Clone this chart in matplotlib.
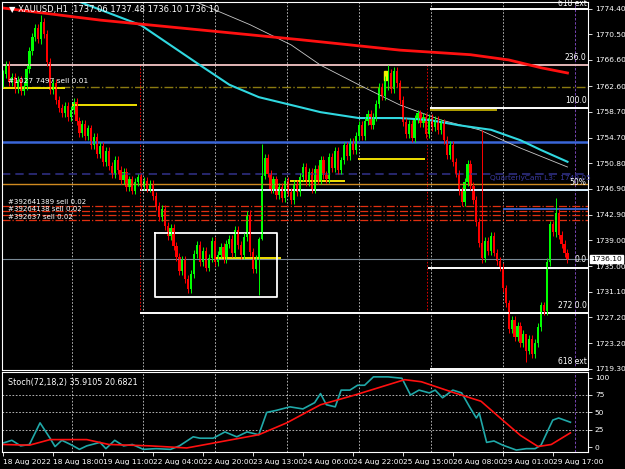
import numpy as np
import matplotlib
matplotlib.use('Agg')
import matplotlib.pyplot as plt

# Hourly closes, XAUUSD H1
closes = [
    1764.5, 1765.8, 1763.2, 1764.0, 1762.1, 1763.5, 1761.8, 1762.6, 1765.2, 1768.0,
    1770.1, 1771.5, 1769.8, 1772.4, 1770.6, 1766.3, 1762.0, 1763.1, 1760.5, 1759.2,
    1758.4, 1759.6, 1757.8, 1758.9, 1760.1, 1757.2, 1755.4, 1756.8, 1754.9, 1756.1,
    1753.6, 1754.8, 1752.2, 1753.4, 1751.0, 1752.7, 1750.4, 1749.1, 1751.3, 1749.8,
    1748.2, 1749.5, 1747.1, 1748.3, 1746.6, 1747.9, 1748.6, 1747.3, 1748.1, 1746.9,
    1747.6, 1745.8, 1744.2, 1742.5, 1743.8, 1741.2, 1739.6, 1740.8, 1738.1, 1736.4,
    1734.2, 1735.9, 1733.1, 1731.5, 1733.8, 1736.9, 1738.2, 1735.6, 1737.4, 1734.8,
    1736.3, 1738.9, 1735.7, 1736.8, 1737.9, 1736.1, 1738.4, 1739.2, 1737.0, 1740.6,
    1738.3, 1736.7, 1739.5, 1742.8, 1737.2, 1734.6, 1736.2, 1739.1, 1748.9, 1751.6,
    1749.2, 1746.8, 1748.3, 1745.9, 1747.1, 1745.5, 1748.0, 1746.4, 1745.1, 1747.6,
    1746.3, 1748.7, 1750.2, 1747.9, 1749.4, 1746.8, 1749.9, 1748.2, 1751.3, 1749.0,
    1748.4, 1751.8, 1750.1, 1752.6, 1749.7, 1751.2, 1753.5, 1751.9, 1754.1, 1752.8,
    1755.0, 1756.7, 1754.9, 1757.2, 1758.3, 1756.6, 1757.8, 1759.9, 1762.4, 1761.1,
    1763.5, 1764.6, 1762.2, 1764.9, 1763.0, 1760.4, 1757.1, 1755.3, 1756.8, 1754.6,
    1757.5, 1758.4, 1756.9, 1757.9, 1755.2, 1757.7, 1756.3, 1757.4, 1755.8, 1756.9,
    1754.3, 1752.1, 1753.6, 1751.0, 1749.2, 1746.5, 1744.8, 1747.9, 1750.6, 1747.3,
    1745.1, 1741.8, 1738.5, 1736.2, 1738.9, 1737.4, 1739.6, 1737.1, 1735.8, 1734.9,
    1731.6, 1729.3, 1725.4, 1726.8, 1724.2, 1725.9, 1723.3, 1724.6, 1722.1, 1723.8,
    1721.5, 1723.2, 1725.7, 1729.0, 1728.1, 1735.6, 1741.4, 1740.2, 1743.1, 1739.8,
    1738.4, 1737.06, 1736.10,
]
first_open = 1763.0
# notable wicks: bar -> (high, low)
wick_extremes = {13: (1773.5, 1769.0), 84: (1743.6, 1736.5), 87: (1739.5, 1730.6),
                 88: (1753.7, 1739.0), 131: (1765.8, 1762.0), 163: (1755.9, 1735.5),
                 178: (1724.0, 1720.4), 188: (1745.5, 1739.5)}
default_wick = 0.6

# moving averages (bar, price)
ma_red = [(0, 1774.55), (33, 1772.7), (67, 1771.2), (101, 1769.7), (135, 1768.1),
          (159, 1767.4), (172, 1766.6), (183, 1765.4), (192, 1764.6)]
ma_cyan = [(26, 1775.5), (47, 1771.9), (67, 1765.8), (77, 1762.8), (87, 1760.9),
           (98, 1759.7), (108, 1758.6), (121, 1757.7), (135, 1757.7), (145, 1757.4),
           (155, 1756.6), (166, 1755.9), (176, 1754.3), (183, 1752.8), (192, 1751.0)]
ma_gray = [(64, 1775.8), (84, 1772.0), (98, 1768.9), (108, 1765.8), (121, 1762.8),
           (135, 1759.7), (149, 1757.4), (162, 1755.9), (176, 1753.1), (192, 1750.2)]

# stochastic (bar, value)
stoch_main = [(0, 6), (3, 10), (6, 2), (9, 4), (12.6, 35), (16, 13), (17.7, 1), (20, 10),
              (23, 4), (26, -3), (28.5, 2), (33, 7), (35, -2), (38, 10), (41, 2), (44, 4),
              (47.7, -3), (52, -2), (57, -3), (60, 2), (64.7, 15), (67, 13), (71.5, 13),
              (75.5, 22), (79.5, 15), (83, 22), (87, 18), (89.7, 50), (93, 53), (97.6, 58),
              (102, 55), (106, 64), (108, 77), (110, 61), (113, 58), (115, 82), (118, 82),
              (120.6, 89), (123, 89), (126, 101), (131, 101), (135.7, 99), (138.6, 75),
              (141.5, 82), (145, 78), (147, 82), (149.5, 71), (153, 82), (156, 78),
              (158.7, 58), (161, 42), (162, 49), (164.5, 7), (167, 9), (170, 3),
              (174.6, -4), (178, -2), (181, -2), (183, 3), (187, 39), (189, 42), (193, 35.9)]
stoch_signal = [(0, 4), (9, 3), (16, 11), (28.5, 11), (36, 4), (50, 2), (62.5, -1),
                (78, 11), (87, 18), (96.5, 35), (108, 61), (119.7, 75), (136.6, 97),
                (142.3, 94), (153.6, 78), (162.6, 66), (169.4, 41), (176, 17), (182, 1),
                (186.5, 4), (193, 20.7)]

price_ticks = [1774.40, 1770.50, 1766.60, 1762.60, 1758.70, 1754.70, 1750.80, 1746.90,
               1742.90, 1739.00, 1735.00, 1731.10, 1727.20, 1723.20, 1719.30]
date_labels = ['18 Aug 2022', '18 Aug 18:00', '19 Aug 11:00', '22 Aug 04:00', '22 Aug 20:00',
               '23 Aug 13:00', '24 Aug 06:00', '24 Aug 22:00', '25 Aug 15:00', '26 Aug 08:00',
               '29 Aug 01:00', '29 Aug 17:00']
last_price = 1736.10

W, H = 625, 469
BAR = 2.94
def px_to_bar(x):
    return (x - 3) / BAR

fig = plt.figure(figsize=(W / 100, H / 100), dpi=100)
fig.patch.set_facecolor('black')
ax = fig.add_axes([2 / W, (H - 370) / H, 586 / W, 368 / H])
ax2 = fig.add_axes([2 / W, (H - 452) / H, 586 / W, 80 / H])
xlim = (px_to_bar(2), px_to_bar(588))
p_top = 1775.47
p_bot = p_top - 368 / 6.53
for a in (ax, ax2):
    a.set_facecolor('black')
    a.set_xlim(*xlim)
    for s in a.spines.values():
        s.set_color('white')
        s.set_linewidth(0.8)
    a.yaxis.tick_right()
    a.tick_params(colors='white', labelsize=5.4, length=3, width=0.6, pad=2)
ax.set_ylim(p_bot, p_top)
ax2.set_ylim(-6.8, 108)

# grid verticals
for gx in [72, 143, 215, 287, 359, 431, 503]:
    for a in (ax, ax2):
        a.axvline(px_to_bar(gx), color='white', ls=(0, (2, 2)), lw=0.6, alpha=0.8)
ax.axvline(px_to_bar(575), color='#8a4fd0', ls=(0, (3, 2)), lw=0.6)
ax2.axvline(px_to_bar(575), color='#8a4fd0', ls=(0, (3, 2)), lw=0.6)
for v in (25, 50, 75):
    ax2.axhline(v, color='white', ls=(0, (2, 2)), lw=0.6, alpha=0.8)
ax.vlines([px_to_bar(140), px_to_bar(427)], 1727.8, 1765.8, color='red', ls=(0, (2, 2)), lw=0.6)

# full width levels
ax.axhline(1765.8, color='#f4c6c6', lw=1.3)
ax.axhline(1762.4, color='#8a7a10', ls='-.', lw=1.0)
ax.axhline(1754.03, color='#3a66d8', lw=1.8)
ax.axhline(1749.13, color='#2e2e80', ls=(0, (5, 3)), lw=1.2)
ax.axhline(1747.67, color='#d08a20', lw=1.0)
for lv in (1744.23, 1743.46, 1742.85, 1742.1):
    ax.axhline(lv, color='#e03010', ls='-.', lw=0.9)
ax.axhline(last_price, color='#7a8a96', lw=0.8)

# partial level segments
ax.hlines(1746.7, px_to_bar(140), xlim[1], color='#d8f0ff', lw=1.4)
ax.hlines(1743.7, px_to_bar(503), xlim[1], color='#3a66d8', lw=1.3)
for y0, x0 in [(1774.4, 430), (1759.2, 430), (1734.8, 428), (1727.8, 140), (1719.3, 430)]:
    ax.hlines(y0, px_to_bar(x0), xlim[1], color='white', lw=1.4)
for y0, x0, x1, c in [(1762.3, 3, 65, '#f0e000'), (1759.7, 72, 137, '#f0e000'),
                      (1751.5, 358, 425, '#f0e000'), (1748.1, 290, 345, '#f0e000'),
                      (1758.9, 430, 497, '#b0a000'), (1736.3, 216, 281, '#f0e000')]:
    ax.hlines(y0, px_to_bar(x0), px_to_bar(x1), color=c, lw=1.4)

# box
bx0, bx1 = px_to_bar(155), px_to_bar(277)
ax.plot([bx0, bx1, bx1, bx0, bx0], [1740.1, 1740.1, 1730.3, 1730.3, 1740.1], color='white', lw=1.3)

# moving averages
for data, c, lw in [(ma_gray, '#c8c8c8', 0.6), (ma_cyan, '#30d8e0', 1.5), (ma_red, '#ff1010', 2.0)]:
    xs, ys = zip(*data)
    ax.plot(xs, ys, color=c, lw=lw)

# candles
opens = [first_open] + closes[:-1]
for i, (o, c) in enumerate(zip(opens, closes)):
    col = '#00ff00' if c >= o else '#ff0000'
    hi, lo = wick_extremes.get(i, (max(o, c) + default_wick, min(o, c) - default_wick))
    ax.vlines(i, lo, hi, color=col, lw=0.7)
    ax.bar(i, abs(c - o) if abs(c - o) > 0.15 else 0.15, bottom=min(o, c), width=0.75, color=col)
ax.add_patch(plt.Rectangle((px_to_bar(384), 1763.6), 0.9, 1.3, color='#f0f000'))

# stochastic
for data, c in [(stoch_main, '#20a8a8'), (stoch_signal, '#ff1010')]:
    xs, ys = zip(*data)
    ax2.plot(xs, ys, color=c, lw=1.2)

# axes ticks
ax.set_yticks(price_ticks)
ax.set_yticklabels([f'{p:.2f}' for p in price_ticks])
ax.set_xticks([])
ax2.set_yticks([0, 25, 50, 75, 100])
ax2.set_xticks([i * 17 for i in range(len(date_labels))])
ax2.set_xticklabels(date_labels, ha='left', fontsize=5.4)
ax2.tick_params(axis='x', length=3, pad=2)

ax.text(1.006, (last_price - p_bot) / (p_top - p_bot), f'{last_price:.2f}', transform=ax.transAxes,
        fontsize=5.4, color='black', va='center', ha='left',
        bbox=dict(boxstyle='square,pad=0.15', fc='white', ec='white'))

# texts
ax.text(0.012, 0.993, '\u25bc XAUUSD,H1  1737.06 1737.48 1736.10 1736.10', transform=ax.transAxes,
        color='white', fontsize=6.0, va='top')
ax2.text(0.01, 0.93, 'Stoch(72,18,2) 35.9105 20.6821', transform=ax2.transAxes,
         color='white', fontsize=5.8, va='top')
ax.text(px_to_bar(8), 1762.9, '#1027 7497 sell 0.01', color='white', fontsize=5.3, va='bottom')
for k, yv in enumerate([1744.8, 1743.7, 1742.6]):
    ax.text(px_to_bar(8), yv, ['#392641389 sell 0.02', '#39264138 sell 0.02', '#392637 sell 0.02'][k],
            color='white', fontsize=5.0, va='center')
ax.text(px_to_bar(490), 1748.5, 'QuarterlyCam L3:  1749.05', color='#3a3aa0', fontsize=5.3, va='center')
for yv, t in [(1774.6, '618 ext'), (1766.3, '236.0'), (1759.7, '100.0'), (1747.2, '50%'),
              (1735.3, '0.0'), (1728.3, '272 0.0'), (1719.8, '618 ext')]:
    ax.text(xlim[1] - 0.5, yv, t, color='white', fontsize=5.5, ha='right', va='bottom')

fig.savefig('out.png', dpi=100, facecolor='black')
